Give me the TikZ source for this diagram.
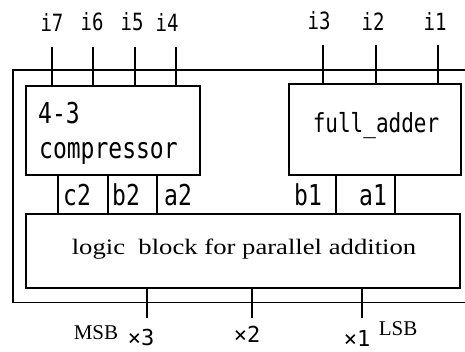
\documentclass[tikz,border=0pt]{standalone}
\usepackage{fontspec}
\usepackage{graphicx}
\setmainfont{Liberation Serif}
\newfontfamily\pinfont{DejaVu Sans Mono}
\usetikzlibrary{positioning}
\newcommand{\tall}[1]{\scalebox{1}[1.25]{#1}}

\tikzset{
  blk/.style={draw,line width=1.2pt,rectangle,inner sep=0pt},
  pinlbl/.style={font=\pinfont\fontsize{19}{19}\selectfont,inner sep=0pt},
  portlbl/.style={font=\pinfont\fontsize{23}{23}\selectfont,inner sep=0pt},
  serlbl/.style={font=\fontsize{21}{21}\selectfont,inner sep=0pt},
  wire/.style={line width=1.2pt}
}

\begin{document}
\begin{tikzpicture}[x=1pt,y=-1pt]
\useasboundingbox (0,0) rectangle (465,352);
% outer frame, open on the right
\draw[wire] (465,70) -- (13,70) -- (13,302.5) -- (465,302.5);
% blocks
\node[blk,minimum width=174pt,minimum height=89pt] (comp) at (113,130.5) {};
\node[blk,minimum width=172pt,minimum height=91pt] (fa) at (375,129.5) {};
\node[blk,minimum width=434pt,minimum height=74pt] (logic) at (243,251) {};
\node[portlbl,anchor=west] (c43) at (38,113) {\tall{4-3}};
\node[portlbl,anchor=west] (ctxt) at (39,153) {\tall{compressor}};
\node[pinlbl,font=\pinfont\fontsize{21}{21}\selectfont] (fatxt) at (376,126) {\tall{full\textunderscore adder}};
\node[serlbl] (ltxt) at (244,249)
  {\scalebox{1.27}[1.05]{logic\ \ block for parallel addition}};
% inputs
\foreach \n/\x/\lx in {7/52/52,6/93/92,5/135/132,4/176/167}{
  \node[pinlbl] (i\n) at (\lx,22) {\tall{i\n}};
  \coordinate (t\n) at (\x,47);
  \draw[wire] (t\n) -- (t\n |- comp.north);
}
\foreach \n/\x/\lx in {3/323/319,2/376/373,1/438/435}{
  \node[pinlbl] (i\n) at (\lx,21) {\tall{i\n}};
  \coordinate (t\n) at (\x,45);
  \draw[wire] (t\n) -- (t\n |- fa.north);
}
% ports between blocks
\foreach \s/\x in {s1/58,s2/108,s3/157,s4/336,s5/395}{
  \coordinate (\s) at (\x,195);
}
\draw[wire] (s1 |- comp.south) -- (s1 |- logic.north);
\draw[wire] (s2 |- comp.south) -- (s2 |- logic.north);
\draw[wire] (s3 |- comp.south) -- (s3 |- logic.north);
\draw[wire] (s4 |- fa.south) -- (s4 |- logic.north);
\draw[wire] (s5 |- fa.south) -- (s5 |- logic.north);
\node[portlbl] (c2) at (77,195) {\tall{c2}};
\node[portlbl] (b2) at (126,195) {\tall{b2}};
\node[portlbl] (a2) at (178,195) {\tall{a2}};
\node[portlbl] (b1) at (308,195) {\tall{b1}};
\node[portlbl] (a1) at (373,195) {\tall{a1}};
% outputs
\foreach \n/\x in {3/147,2/252,1/362}{
  \coordinate (o\n) at (\x,318);
  \draw[wire] (o\n |- logic.south) -- (o\n);
}
\node[portlbl,font=\pinfont\fontsize{22}{22}\selectfont] (x3) at (141,337) {×3};
\node[portlbl,font=\pinfont\fontsize{22}{22}\selectfont] (x2) at (247,334) {×2};
\node[portlbl,font=\pinfont\fontsize{22}{22}\selectfont] (x1) at (357,338) {×1};
\node[serlbl] (msb) at (96,333) {MSB};
\node[serlbl] (lsb) at (398,329) {LSB};
\end{tikzpicture}
\end{document}
